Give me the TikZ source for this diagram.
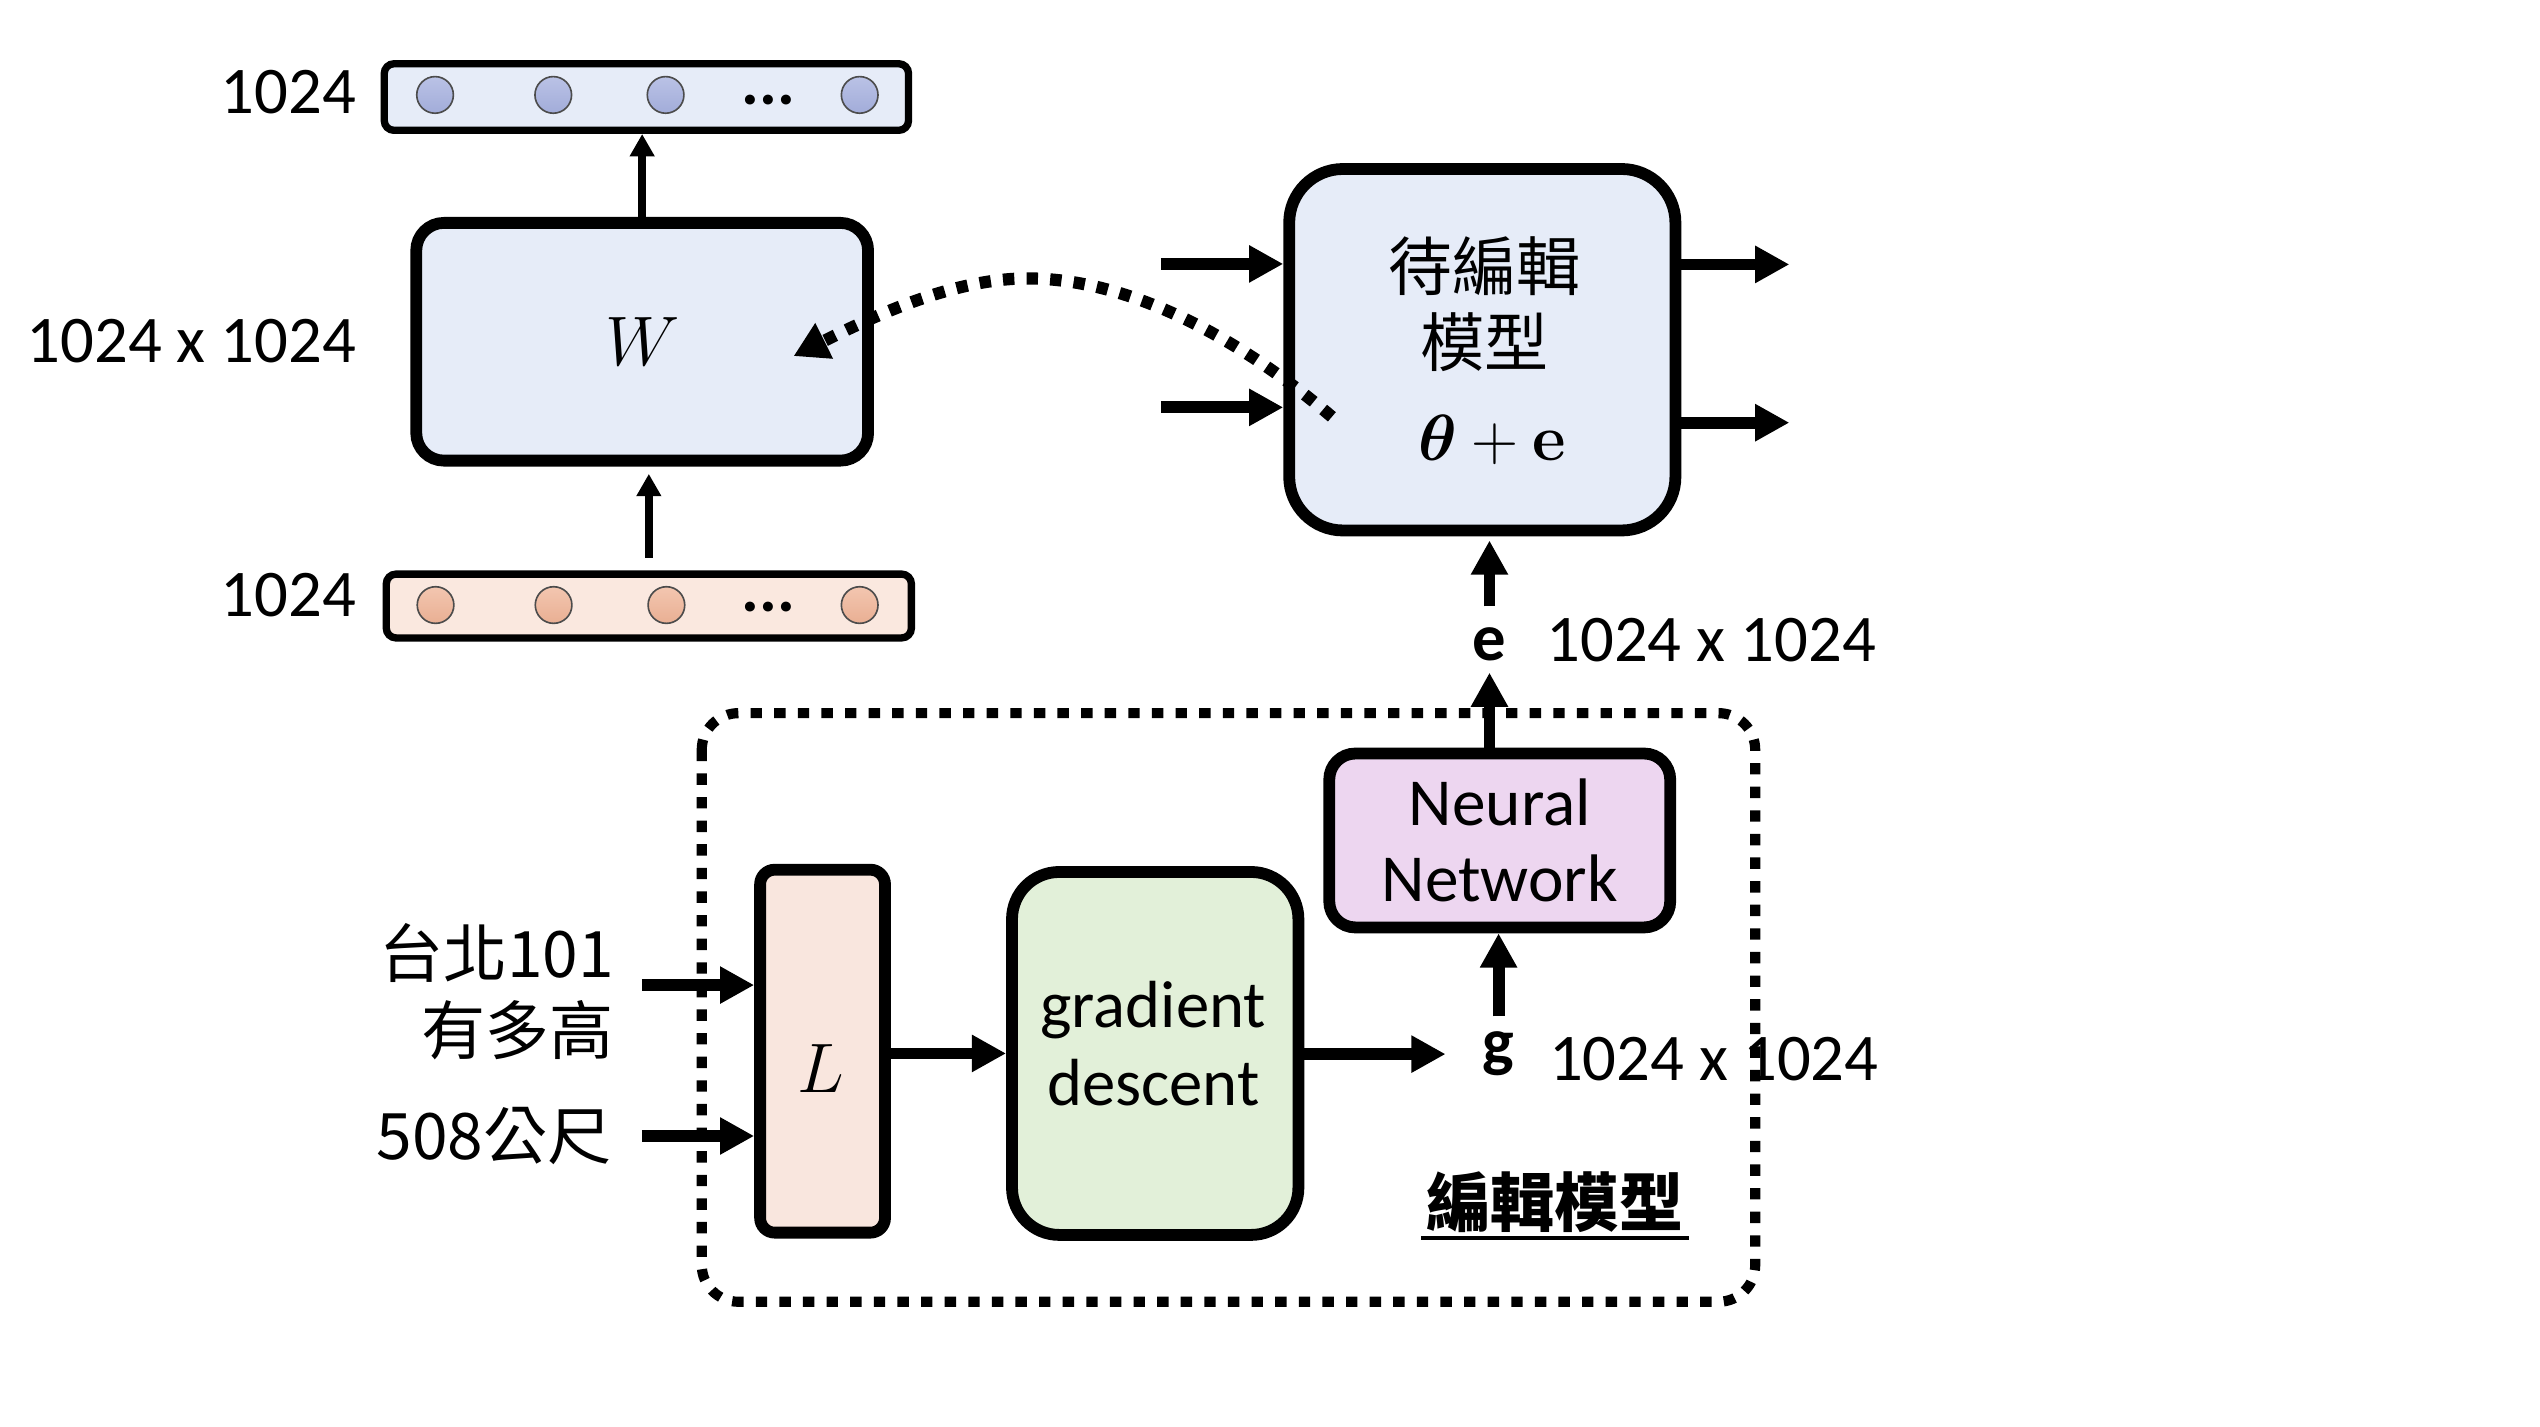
\RequirePackage{fix-cm}
\documentclass[tikz,border=0pt]{standalone}
\usepackage{amsmath,bm}
\usepackage[no-math]{fontspec}
\setmainfont{Carlito}
\newfontfamily\cjk{Noto Sans CJK TC}
\usepackage{xcolor}
\usetikzlibrary{arrows.meta}

\definecolor{blueFill}{HTML}{E6ECF8}
\definecolor{blueDotTop}{HTML}{BAC2E6}
\definecolor{blueDot}{HTML}{A2ACD9}
\definecolor{peachFill}{HTML}{FAE8DF}
\definecolor{peachDotTop}{HTML}{F3C6B0}
\definecolor{peachDot}{HTML}{E9AF93}
\definecolor{pinkFill}{HTML}{EDD6F0}
\definecolor{greenFill}{HTML}{E2F0D9}
\definecolor{lossFill}{HTML}{F9E6DE}

\begin{document}
\begin{tikzpicture}[x=0.2mm,y=-0.2mm,
    font=\fontsize{23.3pt}{27pt}\selectfont,
    box/.style={draw,line width=1.45mm,rounded corners=#1,inner sep=0pt},
    bar/.style={draw,line width=0.9mm,rounded corners=1.2mm,minimum width=64.4mm,minimum height=8mm,inner sep=0pt},
    unit/.style={circle,draw=black!70,line width=0.2mm,minimum size=4.5mm,inner sep=0pt},
    lbl/.style={inner sep=0pt},
    cjktext/.style={inner sep=0pt,font=\cjk\fontsize{22.4pt}{27pt}\selectfont},
    thin arrow/.style={-{Triangle[length=2.75mm,width=2.9mm]},line width=1mm},
    thick arrow/.style={-{Triangle[length=4.2mm,width=4.3mm]},line width=1.45mm},
    dots line/.style={line width=1.5mm,dash pattern=on 1.4mm off 1.5mm},
    frame/.style={line width=1.25mm,dash pattern=on 1.4mm off 1.5mm,rounded corners=4.5mm},
    bigmath/.style={font=\fontsize{24.5pt}{28pt}\selectfont}
]
    \useasboundingbox (0,0) rectangle (1560,876);

    % output vector
    \node[bar,fill=blueFill,minimum height=8.18mm] (outbar) at (397,59.6) {};
    \foreach \x in {267.2,339.8,408.8,528}
        \node[unit,top color=blueDotTop,bottom color=blueDot] (out\x) at (\x,58.3) {};
    \node[lbl] (outdots) at (472,61.4) {\textbf{...}};
    \node[lbl,anchor=east] (outlbl) at (219,56.7) {1024};

    % weight matrix
    \node[box=3.4mm,fill=blueFill,minimum width=55.5mm,minimum height=29.2mm,bigmath] (W) at (394.4,209.9) {$W$};
    \node[lbl,anchor=east] (Wlbl) at (219,209.2) {1024 x 1024};

    % input vector
    \node[bar,fill=peachFill,minimum width=64.5mm,minimum height=7.84mm] (inbar) at (398.5,372.2) {};
    \foreach \x in {267.5,340,409.3,528}
        \node[unit,top color=peachDotTop,bottom color=peachDot] (in\x) at (\x,371.6) {};
    \node[lbl] (indots) at (472,372.9) {\textbf{...}};
    \node[lbl,anchor=east] (inlbl) at (219,365.2) {1024};

    \draw[thin arrow] (W.north) -- (W.north |- outbar.south);
    \draw[thin arrow,shorten <=1.55mm,shorten >=0.9mm] (inbar.north) -- (inbar.north |- W.south);

    % model to be edited
    \node[box=6.6mm,fill=blueFill,minimum width=47.44mm,minimum height=44.4mm] (edit) at (910.4,214.8) {};
    \node[cjktext,align=center,font=\cjk\fontsize{22.4pt}{26.5pt}\selectfont] (edittxt) at (911.9,187) {待編輯\\模型};
    \node[lbl,font=\fontsize{22.8pt}{27pt}\selectfont] (theta) at (916.4,270) {$\boldsymbol{\theta}+\mathbf{e}$};

    \coordinate (in1) at (713,162.1);
    \coordinate (in2) at (713,250.2);
    \coordinate (out1) at (1099,162.4);
    \coordinate (out2) at (1099,259.6);
    \draw[thick arrow] (in1) -- (in1 -| edit.west);
    \draw[thick arrow] (in2) -- (in2 -| edit.west);
    \draw[thick arrow] (out1 -| edit.east) -- (out1);
    \draw[thick arrow] (out2 -| edit.east) -- (out2);

    % edit goes back into W
    \coordinate (dstart) at (818,256);
    \coordinate (dend) at (487.4,218.7);
    \draw[dots line,-{Triangle[length=4.2mm,width=4.6mm]}] (dstart) .. controls (770,215) and (700,171) .. (631,171)
        .. controls (585,171) and (535,195) .. (dend);

    % editor
    \draw[frame] (431,438) rectangle (1078,799.5);
    \node[cjktext,anchor=east,align=right] (question) at (377.5,609.1) {台北101\\有多高};
    \node[cjktext,anchor=east] (answer) at (376,697.9) {508公尺};
    \node[box=1.8mm,fill=lossFill,minimum width=15.34mm,minimum height=44.58mm] (L) at (505.2,645.6) {};
    \node[lbl,bigmath] (Lsym) at (504,656.1) {$L$};
    \node[box=5.8mm,fill=greenFill,minimum width=35.18mm,minimum height=44.58mm] (gd) at (709.5,647) {};
    \node[lbl,align=center,font=\fontsize{23.3pt}{27.3pt}\selectfont] (gdtxt) at (708.3,641) {gradient\\descent};
    \node[box=3.2mm,fill=pinkFill,minimum width=41.88mm,minimum height=21.36mm,align=center,font=\fontsize{23.5pt}{26.8pt}\selectfont] (nn) at (921.1,516.2) {Neural\\Network};
    \node[lbl,font=\fontsize{23.3pt}{27pt}\selectfont\bfseries] (g) at (920.4,647.4) {g};
    \node[lbl,anchor=west] (glbl) at (951,650.4) {1024 x 1024};
    \node[lbl,font=\fontsize{23.3pt}{27pt}\selectfont\bfseries] (e) at (914.8,396) {e};
    \node[lbl,anchor=west] (elbl) at (949.5,393.3) {1024 x 1024};
    \node[cjktext,font=\cjk\bfseries\fontsize{22.4pt}{27pt}\selectfont] (editlbl) at (955,738.4) {編輯模型};
    \draw[line width=0.45mm] ([xshift=-0.6mm]editlbl.south west |- 0,760.4) -- ([xshift=0.6mm]editlbl.south east |- 0,760.4);

    \coordinate (q1) at (394.2,605);
    \coordinate (a1) at (394.2,697.7);
    \draw[thick arrow] (q1) -- (q1 -| L.west);
    \draw[thick arrow] (a1) -- (a1 -| L.west);
    \draw[thick arrow] (L.east |- gd.west) -- (gd.west);
    \draw[thick arrow,shorten >=4.5mm] (gd.east |- g.west) -- (g.west);
    \draw[thick arrow,shorten <=1.85mm] (g.north) -- (g.north |- nn.south);
    \draw[thick arrow,shorten >=1.3mm] (e.south |- nn.north) -- (e.south);
    \draw[thick arrow,shorten <=2.6mm,shorten >=0.5mm] (e.north) -- (e.north |- edit.south);
\end{tikzpicture}
\end{document}
